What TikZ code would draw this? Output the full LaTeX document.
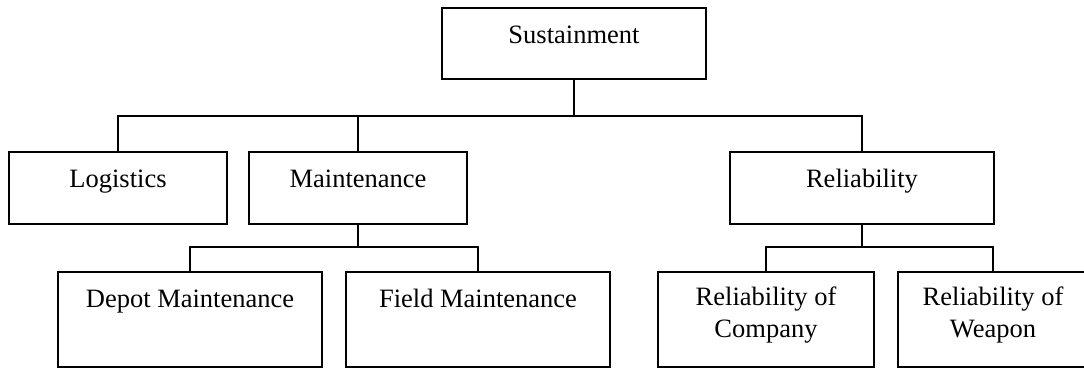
\documentclass[tikz,border=0pt]{standalone}
\usepackage{fontspec}
\setmainfont{Liberation Serif}
\usetikzlibrary{calc}
\begin{document}
\begin{tikzpicture}[x=1pt,y=-1pt,
  box/.style={draw, line width=1.6pt, rectangle, inner sep=0pt},
  lbl/.style={font=\fontsize{26.5}{32}\selectfont, inner sep=0pt, align=center},
  link/.style={line width=1.6pt}]
\useasboundingbox (0,0) rectangle (1084,369);

% boxes
\node[box, minimum width=264pt, minimum height=71pt] (sus) at (574,43.5) {};
\node[box, minimum width=218pt, minimum height=72pt] (log) at (118,188) {};
\node[box, minimum width=218pt, minimum height=72pt] (mai) at (358,188) {};
\node[box, minimum width=264pt, minimum height=72pt] (rel) at (862,188) {};
\node[box, minimum width=264pt, minimum height=95pt] (dep) at (190,319.5) {};
\node[box, minimum width=264pt, minimum height=95pt] (fld) at (478,319.5) {};
\node[box, minimum width=216pt, minimum height=95pt] (com) at (766,319.5) {};
\node[box, minimum width=190pt, minimum height=95pt] (wpn) at (993,319.5) {};

% labels (base anchor of a two-line label sits on its last line)
\node[lbl, anchor=base] (tsus) at ($(sus.north)+(0,36)$) {Sustainment};
\node[lbl, anchor=base] (tlog) at ($(log.north)+(0,36)$) {Logistics};
\node[lbl, anchor=base] (tmai) at ($(mai.north)+(0,36)$) {Maintenance};
\node[lbl, anchor=base] (trel) at ($(rel.north)+(0,36)$) {Reliability};
\node[lbl, anchor=base] (tdep) at ($(dep.north)+(0,36)$) {Depot Maintenance};
\node[lbl, anchor=base] (tfld) at ($(fld.north)+(0,36)$) {Field Maintenance};
\node[lbl, anchor=base] (tcom) at ($(com.north)+(0,66)$) {Reliability of\\Company};
\node[lbl, anchor=base] (twpn) at ($(wpn.north)+(0,66)$) {Reliability of\\Weapon};

% connector rails
\coordinate (railA) at (0,116);
\coordinate (railB) at (0,247);

\draw[link] (sus.south) -- (sus.south |- railA) -| (log.north);
\draw[link] (sus.south |- railA) -| (mai.north);
\draw[link] (sus.south |- railA) -| (rel.north);

\draw[link] (mai.south) -- (mai.south |- railB) -| (dep.north);
\draw[link] (mai.south |- railB) -| (fld.north);

\draw[link] (rel.south) -- (rel.south |- railB) -| (com.north);
\draw[link] (rel.south |- railB) -| (wpn.north);
\end{tikzpicture}
\end{document}
